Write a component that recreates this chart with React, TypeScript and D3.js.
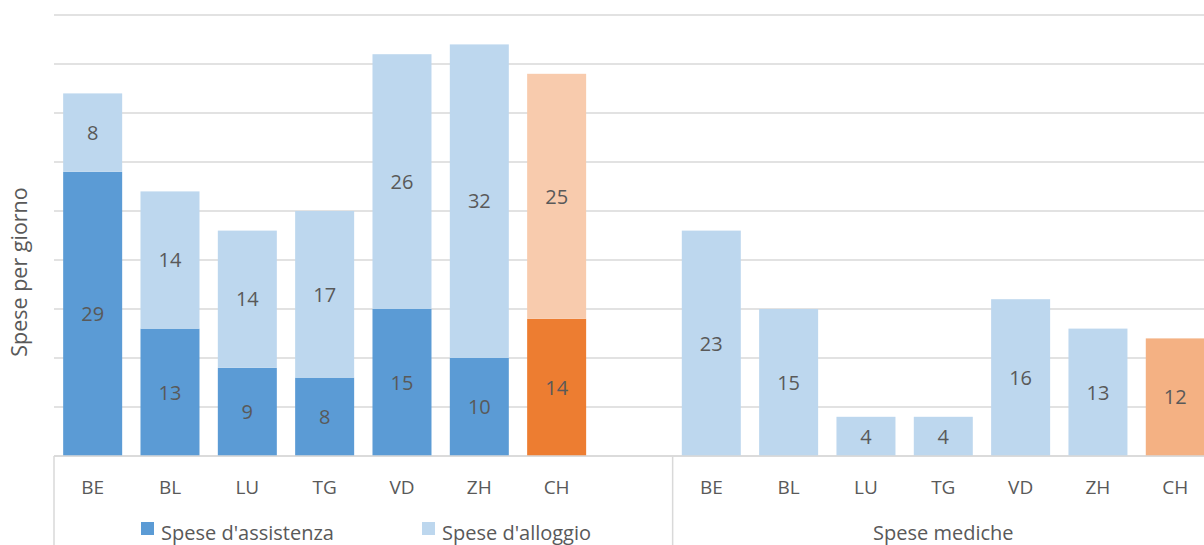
import React from "react";
import * as d3 from "d3";

const categories = ["BE", "BL", "LU", "TG", "VD", "ZH", "CH"];
const assistenza = [29, 13, 9, 8, 15, 10, 14];
const alloggio = [8, 14, 14, 17, 26, 32, 25];
const mediche = [23, 15, 4, 4, 16, 13, 12];
const yTicks = [0, 5, 10, 15, 20, 25, 30, 35, 40, 45];
const groupLabels = ["Spese mediche"];
const legendLabels = ["Spese d'assistenza", "Spese d'alloggio"];
const yTitle = "Spese per giorno";

const W = 1204;
const H = 545;
const FONT = "'Open Sans', sans-serif";
const TXT = "#595959";
const GRID = "#d9d9d9";
const FS = 20;

const C_DARK = "#5B9BD5";
const C_LIGHT = "#BDD7EE";
const C_ORANGE = "#ED7D31";
const C_LORANGE = "#F8CBAD";
const C_MORANGE = "#F4B183";

export default function App() {
  const left = 54;
  const step = 77.33;
  const nSlots = 15;
  const x = d3
    .scaleBand<number>()
    .domain(d3.range(nSlots))
    .range([left, left + step * nSlots])
    .paddingInner(0.237)
    .paddingOuter(0.1185);
  const y = d3.scaleLinear().domain([0, 45]).range([456, 15]);
  const bw = x.bandwidth();

  const stacked = categories.map((c, i) => ({
    c,
    slot: i,
    a: assistenza[i],
    b: alloggio[i],
    isCH: c === "CH",
  }));
  const med = categories.map((c, i) => ({ c, slot: i + 8, v: mediche[i], isCH: c === "CH" }));

  const sepX = left + step * 8;
  const grp2Center = sepX + (step * 7) / 2;

  return (
    <svg width={W} height={H} style={{ position: "absolute", left: 0, top: 0, background: "#fff" }}>
      {yTicks.map((t) => (
        <line key={t} x1={left} x2={W} y1={y(t)} y2={y(t)} stroke={GRID} strokeWidth={1.5} />
      ))}
      <line x1={left} x2={left} y1={y(0)} y2={H} stroke={GRID} strokeWidth={1.5} />
      <line x1={sepX} x2={sepX} y1={y(0)} y2={H} stroke={GRID} strokeWidth={1.5} />

      {stacked.map((d) => {
        const x0 = x(d.slot)!;
        return (
          <g key={"s" + d.c}>
            <rect x={x0} width={bw} y={y(d.a)} height={y(0) - y(d.a)} fill={d.isCH ? C_ORANGE : C_DARK} />
            <rect x={x0} width={bw} y={y(d.a + d.b)} height={y(d.a) - y(d.a + d.b)} fill={d.isCH ? C_LORANGE : C_LIGHT} />
            <text x={x0 + bw / 2} y={(y(0) + y(d.a)) / 2} dy="0.36em" textAnchor="middle" fontSize={FS} fill={TXT} fontFamily={FONT}>{d.a}</text>
            <text x={x0 + bw / 2} y={(y(d.a) + y(d.a + d.b)) / 2} dy="0.36em" textAnchor="middle" fontSize={FS} fill={TXT} fontFamily={FONT}>{d.b}</text>
            <text x={x0 + bw / 2} y={494} textAnchor="middle" fontSize={19} fill={TXT} fontFamily={FONT}>{d.c}</text>
          </g>
        );
      })}

      {med.map((d) => {
        const x0 = x(d.slot)!;
        return (
          <g key={"m" + d.c}>
            <rect x={x0} width={bw} y={y(d.v)} height={y(0) - y(d.v)} fill={d.isCH ? C_MORANGE : C_LIGHT} />
            <text x={x0 + bw / 2} y={(y(0) + y(d.v)) / 2} dy="0.36em" textAnchor="middle" fontSize={FS} fill={TXT} fontFamily={FONT}>{d.v}</text>
            <text x={x0 + bw / 2} y={494} textAnchor="middle" fontSize={19} fill={TXT} fontFamily={FONT}>{d.c}</text>
          </g>
        );
      })}

      <line x1={left} x2={W} y1={y(0)} y2={y(0)} stroke={GRID} strokeWidth={1.5} />

      <g>
        <rect x={141} y={522} width={13} height={13} fill={C_DARK} />
        <text x={161} y={540} fontSize={FS} fill={TXT} fontFamily={FONT}>{legendLabels[0]}</text>
        <rect x={422} y={522} width={13} height={13} fill={C_LIGHT} />
        <text x={442} y={540} fontSize={FS} fill={TXT} fontFamily={FONT}>{legendLabels[1]}</text>
      </g>
      <text x={grp2Center} y={540} textAnchor="middle" fontSize={FS} fill={TXT} fontFamily={FONT}>{groupLabels[0]}</text>

      <text transform={`translate(27,${272}) rotate(-90)`} textAnchor="middle" fontSize={21.5} fill={TXT} fontFamily={FONT}>{yTitle}</text>
    </svg>
  );
}
